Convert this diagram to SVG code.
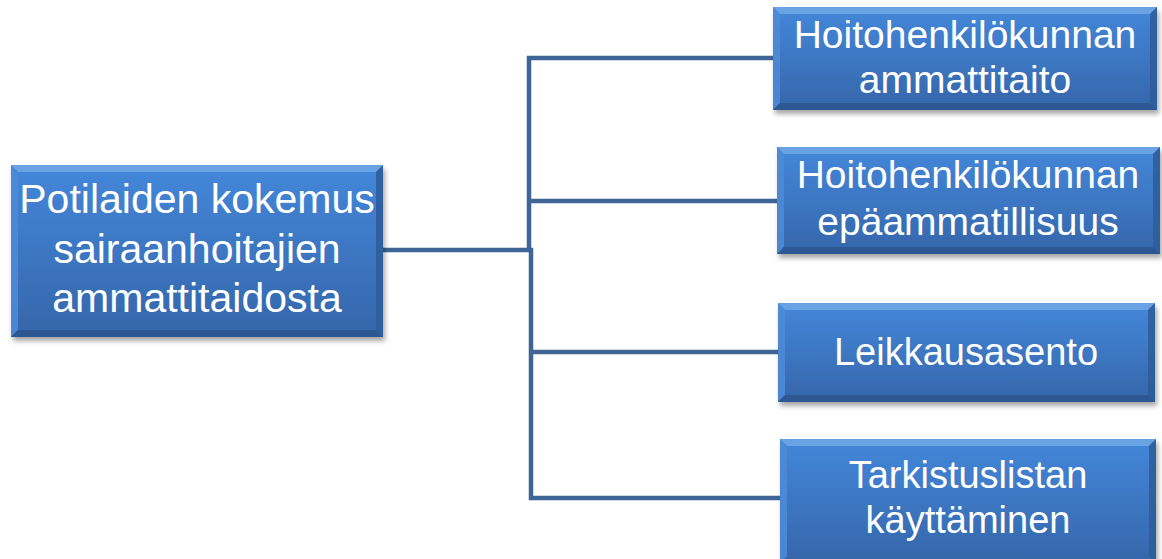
<svg xmlns="http://www.w3.org/2000/svg" width="1162" height="559" viewBox="0 0 1162 559">
<defs>
<linearGradient id="fillG" x1="0" y1="0" x2="0" y2="1">
<stop offset="0" stop-color="#4487da"/>
<stop offset="1" stop-color="#3566aa"/>
</linearGradient>
<filter id="sh" x="-5%" y="-10%" width="112%" height="130%">
<feDropShadow dx="2" dy="4" stdDeviation="2.5" flood-color="#000" flood-opacity="0.35"/>
</filter>
<style>
.box{fill:url(#fillG);filter:url(#sh)}
.bt{fill:#6ea6e6;opacity:0.9}
.bl{fill:#4e8ad6;opacity:0.9}
.br{fill:#2f5d9a;opacity:0.9}
.bb{fill:#2b5590;opacity:0.9}
.t{font-family:"Liberation Sans",Arial,sans-serif;fill:#ffffff;text-anchor:middle}
.conn{fill:none;stroke:#3e6596;stroke-width:4.5;stroke-linejoin:miter}
</style>
</defs>
<rect width="1162" height="559" fill="#ffffff"/>
<g id="connectors">
<path class="conn" d="M383,250 H529 V58 H775"/>
<path class="conn" d="M529,201 H779"/>
<path class="conn" d="M529,250 H531 V498 H782"/>
<path class="conn" d="M531,352 H780"/>
</g>
<g id="main">
<rect class="box" x="11" y="165" width="372" height="172"/>
<polygon class="bt" points="11,165 383,165 376,172 18,172"/>
<polygon class="bl" points="11,165 18,172 18,330 11,337"/>
<polygon class="br" points="383,165 383,337 376,330 376,172"/>
<polygon class="bb" points="11,337 18,330 376,330 383,337"/>
<text class="t" font-size="41"><tspan x="197" y="213">Potilaiden kokemus</tspan><tspan x="197" y="263">sairaanhoitajien</tspan><tspan x="197" y="312">ammattitaidosta</tspan></text>
</g>
<g id="n1">
<rect class="box" x="773" y="7" width="384" height="103"/>
<polygon class="bt" points="773,7 1157,7 1150,14 780,14"/>
<polygon class="bl" points="773,7 780,14 780,103 773,110"/>
<polygon class="br" points="1157,7 1157,110 1150,103 1150,14"/>
<polygon class="bb" points="773,110 780,103 1150,103 1157,110"/>
<text class="t" font-size="39"><tspan x="965" y="48">Hoitohenkilökunnan</tspan><tspan x="965" y="93">ammattitaito</tspan></text>
</g>
<g id="n2">
<rect class="box" x="777" y="147" width="383" height="107"/>
<polygon class="bt" points="777,147 1160,147 1153,154 784,154"/>
<polygon class="bl" points="777,147 784,154 784,247 777,254"/>
<polygon class="br" points="1160,147 1160,254 1153,247 1153,154"/>
<polygon class="bb" points="777,254 784,247 1153,247 1160,254"/>
<text class="t" font-size="39"><tspan x="968" y="188">Hoitohenkilökunnan</tspan><tspan x="968" y="235">epäammatillisuus</tspan></text>
</g>
<g id="n3">
<rect class="box" x="778" y="303" width="377" height="99"/>
<polygon class="bt" points="778,303 1155,303 1148,310 785,310"/>
<polygon class="bl" points="778,303 785,310 785,395 778,402"/>
<polygon class="br" points="1155,303 1155,402 1148,395 1148,310"/>
<polygon class="bb" points="778,402 785,395 1148,395 1155,402"/>
<text class="t" font-size="38" x="966" y="365">Leikkausasento</text>
</g>
<g id="n4">
<rect class="box" x="780" y="439" width="376" height="124"/>
<polygon class="bt" points="780,439 1156,439 1149,446 787,446"/>
<polygon class="bl" points="780,439 787,446 787,556 780,563"/>
<polygon class="br" points="1156,439 1156,563 1149,556 1149,446"/>
<text class="t" font-size="38"><tspan x="968" y="488">Tarkistuslistan</tspan><tspan x="968" y="533">käyttäminen</tspan></text>
</g>
</svg>
